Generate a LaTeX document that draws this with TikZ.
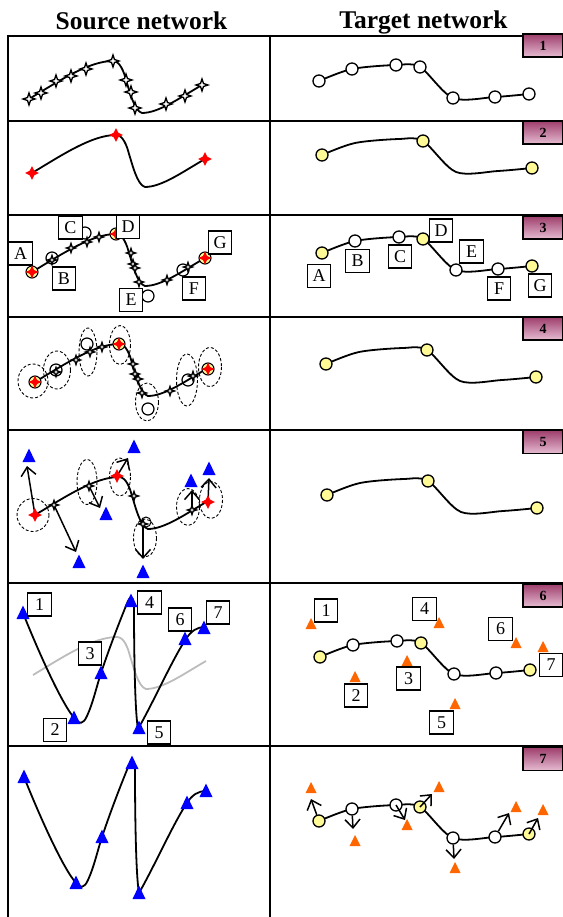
\documentclass[tikz,border=0pt]{standalone}
\usepackage{fontspec}
\setmainfont{Liberation Serif}
\usetikzlibrary{arrows.meta}

\definecolor{nodeyellow}{RGB}{255,250,150}
\definecolor{markblue}{RGB}{0,0,255}
\definecolor{markorange}{RGB}{255,102,0}
\definecolor{badgetop}{RGB}{158,62,108}
\definecolor{badgebot}{RGB}{230,188,210}
\definecolor{ghost}{RGB}{188,188,188}

\tikzset{
  gridline/.style={line width=2pt},
  curve/.style={line width=1.8pt, line join=round},
  tw/.style={circle, draw, fill=white, line width=1.3pt, minimum size=12pt, inner sep=0pt},
  ty/.style={tw, fill=nodeyellow},
  scirc/.style={circle, draw, line width=1.2pt, minimum size=12pt, inner sep=0pt},
  lbl/.style={draw, fill=white, line width=1.1pt, minimum width=23.5pt, minimum height=23pt,
    inner sep=0pt, font=\fontsize{18}{18}\selectfont},
  badge/.style={draw, line width=1.6pt, top color=badgetop, bottom color=badgebot,
    minimum width=40pt, minimum height=23pt, inner sep=0pt, font=\bfseries\fontsize{14}{14}\selectfont},
  header/.style={anchor=base, font=\bfseries\fontsize{25.5}{30}\selectfont},
  dashring/.style={line width=0.9pt, dash pattern=on 3pt off 2pt},
  arr/.style={line width=1.5pt, -{Straight Barb[length=8.5pt,width=15pt,line width=1.5pt]}},
  pics/bstar/.style={code={\draw[line width=1.4pt, fill=white, scale=#1]
     (0,-1) -- (0.25,-0.25) -- (1,0) -- (0.25,0.25) -- (0,1) -- (-0.25,0.25) -- (-1,0) -- (-0.25,-0.25) -- cycle;}},
  pics/rstar/.style={code={\fill[red, scale=#1]
     (0,-1) -- (0.33,-0.33) -- (1,0) -- (0.33,0.33) -- (0,1) -- (-0.33,0.33) -- (-1,0) -- (-0.33,-0.33) -- cycle;}},
  pics/hub/.style={code={\draw[fill=nodeyellow, line width=1.1pt] (0,0) circle (6);
     \fill[red] (0,-6.5) -- (2,-2) -- (6.5,0) -- (2,2) -- (0,6.5) -- (-2,2) -- (-6.5,0) -- (-2,-2) -- cycle;}},
  pics/btri/.style={code={\fill[markblue] (-6.5,6) -- (6.5,6) -- (0,-7.5) -- cycle;}},
  pics/otri/.style={code={\fill[markorange] (-5.5,5) -- (5.5,5) -- (0,-6) -- cycle;}},
  pics/srcnet/.style={code={\draw[curve, #1] (0,0) .. controls (30,-18) and (60,-38) .. (84,-38)
     .. controls (91,-38) and (95,-27) .. (97,-19) .. controls (100,-10) and (105,12) .. (113,14)
     .. controls (130,14) and (152,-2) .. (173,-14);}},
  pics/wiggle/.style={code={\draw[curve] (0,0) .. controls (14,35) and (38,90) .. (52,106)
     .. controls (56,111) and (60,112) .. (64,103) .. controls (70,90) and (74,72) .. (78,60)
     .. controls (88,30) and (100,0) .. (105,-12) .. controls (108,-18) and (111,-16) .. (111,-5)
     .. controls (111,40) and (112,100) .. (115,116) .. controls (130,90) and (150,45) .. (163,26)
     .. controls (168,18) and (174,14) .. (182,14);}},
}

% target network: seven stations on one smooth line
\newcommand\tgtcurve[2]{%
  \begin{scope}[shift={#2}]
    \coordinate (#1a) at (0,0);
    \coordinate (#1b) at (33,-12);
    \coordinate (#1c) at (77,-16);
    \coordinate (#1d) at (101,-14);
    \coordinate (#1e) at (134,17);
    \coordinate (#1f) at (176,16);
    \coordinate (#1g) at (210,13);
    \draw[curve] plot[smooth] coordinates {(#1a) (#1b) (#1c) (#1d) (#1e) (#1f) (#1g)};
  \end{scope}}
\newcommand\tgthubs[1]{%
  \node[ty] (#1A) at (#1a) {}; \node[ty] (#1D) at (#1d) {}; \node[ty] (#1G) at (#1g) {};}
\newcommand\tgtmids[1]{%
  \node[tw] (#1B) at (#1b) {}; \node[tw] (#1C) at (#1c) {};
  \node[tw] (#1E) at (#1e) {}; \node[tw] (#1F) at (#1f) {};}

\begin{document}
\begin{tikzpicture}[x=1pt, y=-1pt]
\useasboundingbox (0,0) rectangle (562,917);

% column headers
\node[header] (hsrc) at (141.5,30) {Source network};
\node[header] (htgt) at (423.5,28.5) {Target network};

% table rules
\foreach \yy in {36,121,215.5,317,429.5,582.5,746} \draw[gridline] (7,\yy) -- (564,\yy);
\draw[gridline] (8,35) -- (8,918);
\draw[gridline] (270,35) -- (270,918);

% step badges
\foreach \n/\yy in {1/45.5,2/132.5,3/227.5,4/328.5,5/442,6/595.5,7/759}
  \node[badge] (badge\n) at (543,\yy) {\n};

% ---------- row 1 ----------
\path (29,99) pic {srcnet=black};
\begin{scope}[shift={(29,99)}]
  \foreach \xx/\yy in {0/0,12/-6,27/-18,42/-23,57/-30,84/-38,97/-19,102/-7,106/9,137/5,156/-3,173/-14}
    \path (\xx,\yy) pic {bstar=6};
\end{scope}
\tgtcurve{t1}{(319,81)}
\foreach \k in {a,b,c,d,e,f,g} \node[tw] (t1\k n) at (t1\k) {};

% ---------- row 2 ----------
\path (32,173) pic {srcnet=black};
\foreach \xx/\yy in {32/173,116/135,205/159} \path (\xx,\yy) pic {rstar=7};
\tgtcurve{t2}{(322,155)}
\tgthubs{t2}

% ---------- row 3 ----------
\path (32,272) pic {srcnet=black};
\node[scirc] (s3B) at (52,258) {};
\node[scirc] (s3C) at (85,233) {};
\node[scirc] (s3E) at (148,296) {};
\node[scirc] (s3F) at (183,270) {};
\foreach \xx/\yy in {52/260,71/248,87/242,99/237,131/253,133/264,135/268,139/282,167/280,188/267}
  \path (\xx,\yy) pic {bstar=4.5};
\path (32,272) pic {hub};
\path (116,234) pic {hub};
\path (205,258) pic {hub};
\node[lbl] (l3A) at (20.5,253.5) {A};
\node[lbl] (l3B) at (64,278.5) {B};
\node[lbl] (l3C) at (70.5,227.5) {C};
\node[lbl] (l3D) at (128,227) {D};
\node[lbl] (l3E) at (131,300) {E};
\node[lbl] (l3F) at (194,288.5) {F};
\node[lbl] (l3G) at (220,242.5) {G};

\tgtcurve{t3}{(322,253)}
\tgthubs{t3}
\tgtmids{t3}
\node[lbl] (m3A) at (319,276) {A};
\node[lbl] (m3B) at (357.5,261) {B};
\node[lbl] (m3C) at (400,256.5) {C};
\node[lbl] (m3D) at (441,230.5) {D};
\node[lbl] (m3E) at (471.5,251.5) {E};
\node[lbl] (m3F) at (499,288.5) {F};
\node[lbl] (m3G) at (540,285.5) {G};

% ---------- row 4 ----------
\path (35,382) pic {srcnet=black};
\draw[dashring] (33,381) ellipse [x radius=15, y radius=17];
\draw[dashring] (57,370) ellipse [x radius=13.5, y radius=19];
\draw[dashring] (88,352) ellipse [x radius=9, y radius=24];
\draw[dashring] (120,345) ellipse [x radius=10.5, y radius=19.5];
\draw[dashring] (147,402) ellipse [x radius=11.5, y radius=19];
\draw[dashring] (187,380) ellipse [x radius=10.5, y radius=26];
\draw[dashring] (210,367) ellipse [x radius=11.5, y radius=19.5];
\node[scirc] (s4B) at (56,370) {};
\node[scirc] (s4C) at (87,344) {};
\node[scirc] (s4E) at (148,409) {};
\node[scirc] (s4F) at (188,380) {};
\foreach \xx/\yy in {56/372,76/360,90/352,102/347,133/364,135/374,138/379,142/393,170/391,193/376}
  \path (\xx,\yy) pic {bstar=4.5};
\path (35,382) pic {hub};
\path (119,344) pic {hub};
\path (208,369) pic {hub};
\tgtcurve{t4}{(326,364)}
\tgthubs{t4}

% ---------- row 5 ----------
\path (35,515) pic {srcnet=black};
\draw[dashring] (33,515) ellipse [x radius=16, y radius=16.5];
\draw[dashring] (87,482) ellipse [x radius=10, y radius=22.5];
\draw[dashring] (120,477) ellipse [x radius=10.5, y radius=19];
\draw[dashring] (145,538) ellipse [x radius=11.5, y radius=19];
\draw[dashring] (188,507) ellipse [x radius=11.5, y radius=18.5];
\draw[dashring] (211,500) ellipse [x radius=11.5, y radius=18.5];
\draw[line width=1pt] (146,522) circle (5);
\coordinate (s5a) at (35,515);  \coordinate (u5a) at (27,466);
\coordinate (s5b) at (54,505);  \coordinate (u5b) at (76,552);
\coordinate (s5c) at (89,486);  \coordinate (u5c) at (100,508);
\coordinate (s5d) at (117,476); \coordinate (u5d) at (128,458);
\coordinate (s5e) at (143,524); \coordinate (u5e) at (143,559);
\coordinate (s5f) at (192,510); \coordinate (u5f) at (192,490);
\coordinate (s5g) at (208,502); \coordinate (u5g) at (209,478);
\foreach \k in {a,b,c,d,e,f,g} \draw[arr] (s5\k) -- (u5\k);
\foreach \xx/\yy in {54/505,89/486,134/496,143/524,192/510}
  \path (\xx,\yy) pic {bstar=4.5};
\foreach \xx/\yy in {35/515,117/476,208/502} \path (\xx,\yy) pic {rstar=7};
\foreach \xx/\yy in {29/456,134/447,106/514,79/562,143/572,191/481,209/469}
  \path (\xx,\yy) pic {btri};
\tgtcurve{t5}{(327,495)}
\tgthubs{t5}

% ---------- row 6 ----------
\path (33,675) pic {srcnet=ghost};
\path (23,613) pic {wiggle};
\foreach \xx/\yy in {23/613,74/718,101/673,131/601,139/728,185/639,204/628}
  \path (\xx,\yy) pic {btri};
\node[lbl] (l6a) at (39.5,604.5) {1};
\node[lbl] (l6b) at (55,730) {2};
\node[lbl] (l6c) at (90,653.5) {3};
\node[lbl] (l6d) at (149.5,602.5) {4};
\node[lbl] (l6e) at (159,732.5) {5};
\node[lbl] (l6f) at (180,619.5) {6};
\node[lbl] (l6g) at (218,612.5) {7};

\tgtcurve{t6}{(320,657)}
\tgthubs{t6}
\tgtmids{t6}
\foreach \xx/\yy in {311/624,355/677,407/661,439/623,455/704,516/643,543/647}
  \path (\xx,\yy) pic {otri};
\node[lbl] (m6a) at (326,610.5) {1};
\node[lbl] (m6b) at (356,695.5) {2};
\node[lbl] (m6c) at (408.5,678.5) {3};
\node[lbl] (m6d) at (424.5,609) {4};
\node[lbl] (m6e) at (441.5,722.5) {5};
\node[lbl] (m6f) at (500.5,629) {6};
\node[lbl] (m6g) at (551,665) {7};

% ---------- row 7 ----------
\path (24,777) pic {wiggle};
\foreach \xx/\yy in {24/777,76/883,102/837,132/763,139/893,187/803,206/791}
  \path (\xx,\yy) pic {btri};

\tgtcurve{t7}{(319,821)}
\tgthubs{t7}
\tgtmids{t7}
\foreach \xx/\yy in {311/788,355/841,407/825,439/787,455/868,516/807,543/810}
  \path (\xx,\yy) pic {otri};
\coordinate (q7a) at (311,799);
\coordinate (q7b) at (353,829);
\coordinate (q7c) at (405,820);
\coordinate (q7d) at (432,794);
\coordinate (q7e) at (454,859);
\coordinate (q7f) at (509,813);
\coordinate (q7g) at (538,818);
\draw[arr] (t7A) -- (q7a);
\draw[arr] (t7B) -- (q7b);
\draw[arr] (t7C.center) -- (q7c);
\draw[arr] (t7D.center) -- (q7d);
\draw[arr] (t7E) -- (q7e);
\draw[arr] (t7F) -- (q7f);
\draw[arr] (t7G.center) -- (q7g);
\end{tikzpicture}
\end{document}
